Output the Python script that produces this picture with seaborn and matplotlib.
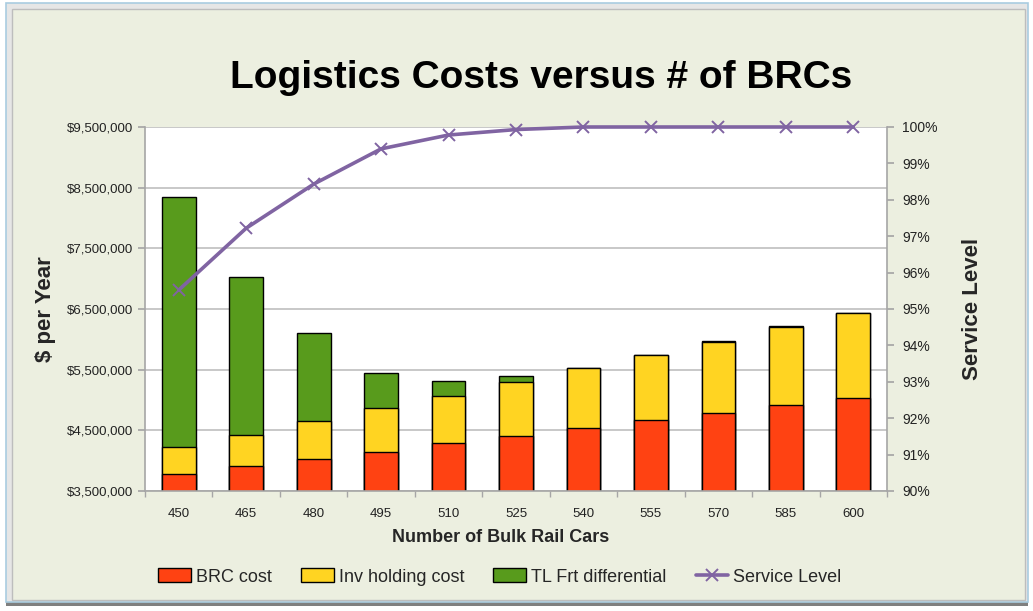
import numpy as np
import pandas as pd
import matplotlib
matplotlib.use("Agg")
import matplotlib.pyplot as plt
import matplotlib.ticker as mticker
from matplotlib.patches import Patch, Rectangle
from matplotlib.lines import Line2D
import seaborn as sns

# chart data
rail_cars = [450, 465, 480, 495, 510, 525, 540, 555, 570, 585, 600]
brc_cost = [3775000, 3910000, 4020000, 4150000, 4290000, 4400000, 4540000, 4670000, 4780000, 4910000, 5040000]
inv_holding_cost = [455000, 520000, 630000, 710000, 780000, 890000, 980000, 1070000, 1180000, 1300000, 1390000]
tl_frt_differential = [4120000, 2600000, 1460000, 590000, 240000, 100000, 10000, 10000, 10000, 10000, 10000]
service_level = [95.52, 97.22, 98.43, 99.40, 99.78, 99.93, 100.0, 100.0, 100.0, 100.0, 100.0]
cost_ticks = [3500000, 4500000, 5500000, 6500000, 7500000, 8500000, 9500000]

RED = "#FF4212"
YELLOW = "#FFD422"
GREEN = "#589B1C"
PURPLE = "#8064A2"
BG = "#ECEFE0"

df = pd.DataFrame({
    "cars": [str(c) for c in rail_cars],
    "brc": brc_cost,
    "inv": inv_holding_cost,
    "tl": tl_frt_differential,
})
df["brc_inv"] = df["brc"] + df["inv"]
df["total"] = df["brc_inv"] + df["tl"]

sns.set_theme(style="white")
plt.rcParams["font.family"] = ["Liberation Sans", "DejaVu Sans"]

fig = plt.figure(figsize=(10.33, 6.11), dpi=100, facecolor="white")

# chart area frame
fig.patches.append(Rectangle((6 / 1033, 1 - 606 / 611), 1022 / 1033, 603 / 611,
                             transform=fig.transFigure, facecolor="#7F7F7F",
                             edgecolor="none", zorder=-3))
fig.patches.append(Rectangle((6 / 1033, 1 - 602 / 611), 1022 / 1033, 599 / 611,
                             transform=fig.transFigure, facecolor="#E6E6E6",
                             edgecolor="#A9CCE0", linewidth=1.2, zorder=-2))
fig.patches.append(Rectangle((12 / 1033, 1 - 600 / 611), 1013 / 1033, 591 / 611,
                             transform=fig.transFigure, facecolor=BG,
                             edgecolor="#BDBDBD", linewidth=1, zorder=-1))

ax = fig.add_axes([145 / 1033, 1 - 491 / 611, 742 / 1033, 364 / 611])
ax.set_facecolor("white")

# stacked bars: draw cumulative totals back to front
bar_kw = dict(x="cars", width=0.5, edgecolor="black", linewidth=1.0, ax=ax,
              saturation=1, zorder=2)
sns.barplot(data=df, y="total", color=GREEN, **bar_kw)
sns.barplot(data=df, y="brc_inv", color=YELLOW, **bar_kw)
sns.barplot(data=df, y="brc", color=RED, **bar_kw)

ax.set_ylim(cost_ticks[0], cost_ticks[-1])
ax.set_xlim(-0.5, len(rail_cars) - 0.5)
ax.set_yticks(cost_ticks)
ax.yaxis.set_major_formatter(mticker.StrMethodFormatter("${x:,.0f}"))
ax.grid(axis="y", color="#BFBFBF", linewidth=1.2, zorder=0)
ax.set_axisbelow(True)
ax.set_xlabel("")
ax.set_ylabel("")

# category boundary tick marks like Excel
ax.set_xticks(np.arange(-0.5, len(rail_cars)), minor=True)
ax.tick_params(axis="x", which="major", length=0, labelsize=9.5, pad=12, colors="#222222")
ax.tick_params(axis="x", which="minor", length=4, color="#A6A6A6", bottom=True)
ax.tick_params(axis="y", which="major", length=5, labelsize=9.5, left=True,
               colors="#222222")
ax.tick_params(axis="y", which="major", color="#A6A6A6")
for side in ["left", "bottom"]:
    ax.spines[side].set_color("#A6A6A6")
    ax.spines[side].set_linewidth(1.2)
for side in ["top", "right"]:
    ax.spines[side].set_visible(False)

# service level on secondary axis
ax2 = ax.twinx()
sns.lineplot(x=np.arange(len(rail_cars)), y=service_level, ax=ax2, color=PURPLE,
             linewidth=2.6, marker="x", markersize=9, markeredgewidth=1.4,
             markeredgecolor=PURPLE, zorder=5, clip_on=False)
ax2.set_ylim(90, 100)
ax2.yaxis.set_major_locator(mticker.MultipleLocator(1))
ax2.yaxis.set_major_formatter(mticker.StrMethodFormatter("{x:.0f}%"))
ax2.tick_params(axis="y", length=5, color="#A6A6A6", labelsize=10, right=True,
                colors="#222222", pad=6)
ax2.grid(False)
for side in ["left", "top", "bottom"]:
    ax2.spines[side].set_visible(False)
ax2.spines["right"].set_color("#A6A6A6")
ax2.spines["right"].set_linewidth(1.2)

# texts
fig.text(541 / 1033, 1 - 78 / 611, "Logistics Costs versus # of BRCs", ha="center",
         va="center", fontsize=28, fontweight="bold", color="black")
fig.text(45 / 1033, 1 - 309 / 611, "$ per Year", ha="center", va="center",
         rotation=90, fontsize=16, fontweight="bold")
fig.text(972 / 1033, 1 - 309 / 611, "Service Level", ha="center", va="center",
         rotation=90, fontsize=16, fontweight="bold")
fig.text(501 / 1033, 1 - 538 / 611, "Number of Bulk Rail Cars", ha="center",
         va="center", fontsize=13, fontweight="bold")

handles = [
    Patch(facecolor=RED, edgecolor="black", label="BRC cost"),
    Patch(facecolor=YELLOW, edgecolor="black", label="Inv holding cost"),
    Patch(facecolor=GREEN, edgecolor="black", label="TL Frt differential"),
    Line2D([], [], color=PURPLE, linewidth=2.6, marker="x", markersize=9,
           markeredgewidth=1.4, label="Service Level"),
]
fig.legend(handles=handles, loc="center", bbox_to_anchor=(500 / 1033, 1 - 577 / 611),
           ncol=4, frameon=False, fontsize=13, handlelength=1.8, handleheight=0.8,
           handletextpad=0.3, columnspacing=1.6)

fig.savefig("out.png", dpi=100, facecolor="white")
